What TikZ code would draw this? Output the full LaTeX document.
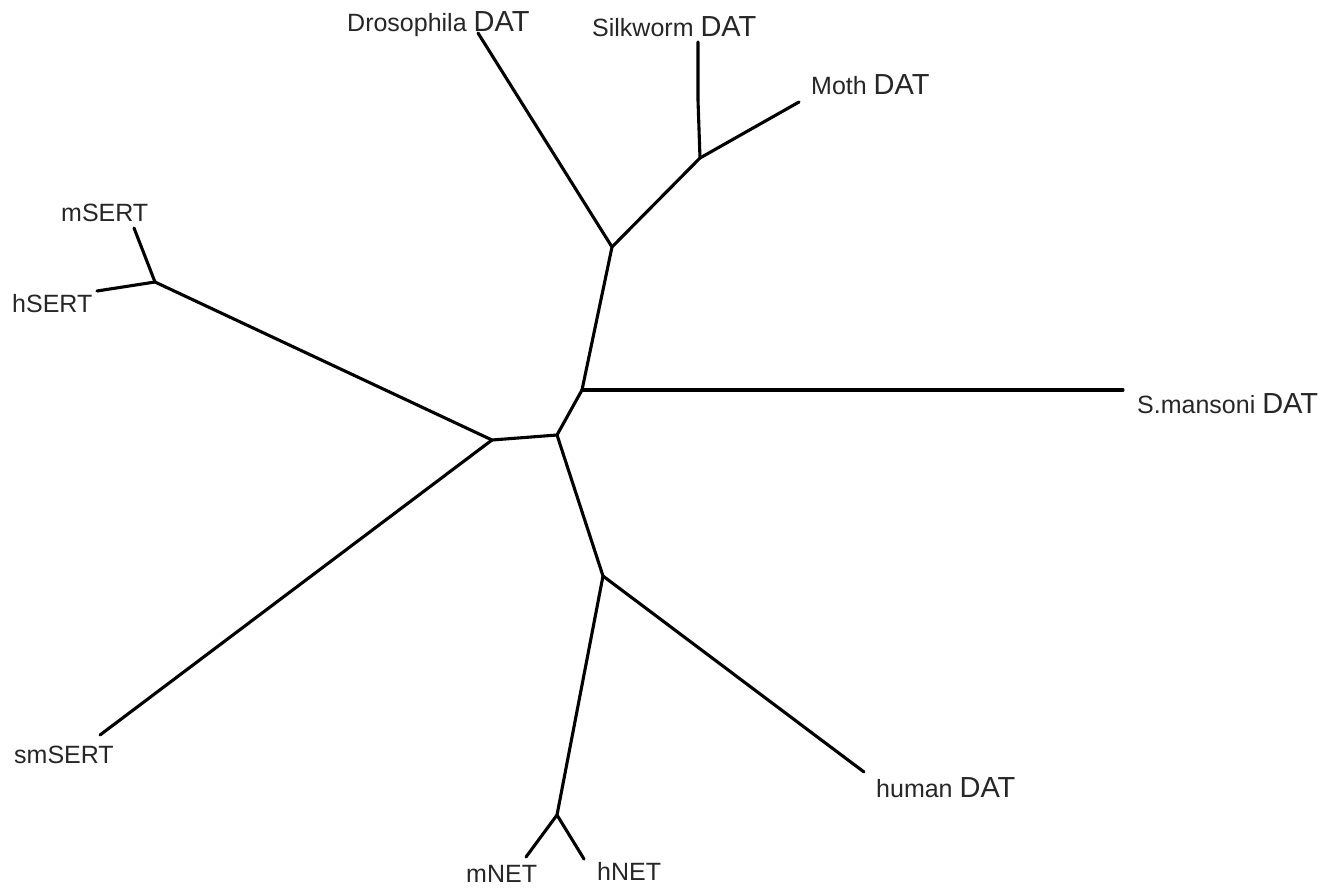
\documentclass[tikz,border=0pt]{standalone}
\usepackage{fontspec}
\setmainfont{Liberation Sans}
\newcommand{\nm}{\fontsize{25}{29}\selectfont}
\newcommand{\dt}{\fontsize{29}{33}\selectfont}
\begin{document}
\begin{tikzpicture}[x=1pt,y=-1pt,
  branch/.style={line width=3.1pt,line cap=round,line join=round},
  lbl/.style={anchor=base west,inner sep=0pt,text=black!85}]
\useasboundingbox (0,0) rectangle (1339,888);
% internal nodes
\coordinate (A) at (612,247);
\coordinate (B) at (700,158);
\coordinate (C) at (582,390);
\coordinate (D) at (557,435);
\coordinate (E) at (492,440);
\coordinate (F) at (155,282);
\coordinate (G) at (603,576);
\coordinate (H) at (557,815);
% leaf ends
\coordinate (dros) at (478,33);
\coordinate (silk) at (698,42);
\coordinate (moth) at (799,102);
\coordinate (sman) at (1123,390);
\coordinate (mser) at (134,228);
\coordinate (hser) at (97,291);
\coordinate (smse) at (100,735);
\coordinate (hdat) at (864,772);
\coordinate (mnet) at (526,857);
\coordinate (hnet) at (584,859);
% branches
\draw[branch] (A) -- (dros);
\draw[branch] (A) -- (B);
\draw[branch] (B) -- (698,100) -- (silk);
\draw[branch] (B) -- (moth);
\draw[branch] (A) -- (C);
\draw[branch] (C) -- (sman);
\draw[branch] (C) -- (D);
\draw[branch] (D) -- (E);
\draw[branch] (E) -- (F);
\draw[branch] (F) -- (mser);
\draw[branch] (F) -- (hser);
\draw[branch] (E) -- (smse);
\draw[branch] (D) -- (G);
\draw[branch] (G) -- (hdat);
\draw[branch] (G) -- (H);
\draw[branch] (H) -- (mnet);
\draw[branch] (H) -- (hnet);
% labels
\node[lbl] (ldros) at (347,32) {\nm Drosophila \dt DAT};
\node[lbl] (lsilk) at (592,37) {\nm Silkworm \dt DAT};
\node[lbl] (lmoth) at (811,95) {\nm Moth \dt DAT};
\node[lbl] (lmser) at (61,222) {\nm mSERT};
\node[lbl] (lhser) at (12,312) {\nm hSERT};
\node[lbl] (lsman) at (1137,413) {\nm S.mansoni \dt DAT};
\node[lbl] (lsmse) at (14,763) {\nm smSERT};
\node[lbl] (lhdat) at (876,797) {\nm human \dt DAT};
\node[lbl] (lmnet) at (466,882) {\nm mNET};
\node[lbl] (lhnet) at (597,880) {\nm hNET};
\end{tikzpicture}
\end{document}
